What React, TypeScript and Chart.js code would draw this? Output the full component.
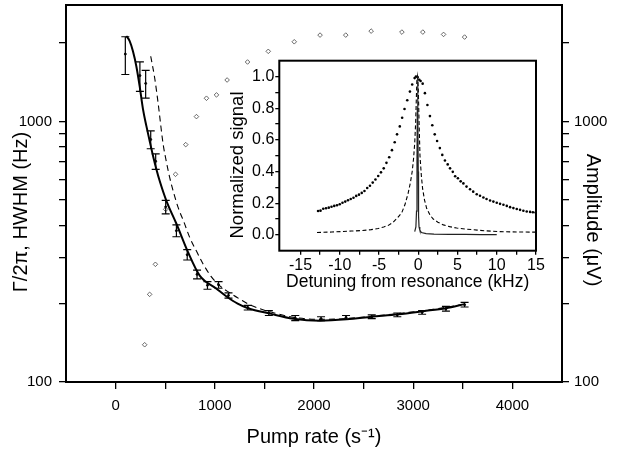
import React, { useEffect, useRef } from 'react';
import { Chart, registerables } from 'chart.js';

Chart.register(...registerables);

const FONT = '"Liberation Sans", Arial, Helvetica, sans-serif';

// ---- Main plot: linewidth vs pump rate ----
const pumpRate = [98, 245, 303, 354, 404, 505, 613, 722, 821, 926, 1038, 1138, 1332, 1545, 1811, 2071, 2323, 2582, 2840, 3090, 3330, 3518];
const linewidthHz = [1815, 1500, 1400, 853, 703, 470, 381, 308, 259, 235, 236, 215, 193, 184, 176, 175, 177, 178, 181, 185, 191, 198];
const linewidthErr = [300, 195, 170, 67, 48, 28, 20, 14, 10, 8, 7, 5, 4, 4, 4, 3, 3, 3, 3, 3, 4, 4];

const fitRate = [108, 141, 175, 209, 242, 276, 310, 343, 377, 411, 444, 512, 613, 730, 848, 1017, 1118, 1230, 1336, 1556, 1791, 2061, 2330, 2582, 2850, 3100, 3330, 3520];
const fitHz = [2130, 2040, 1860, 1630, 1370, 1115, 962, 843, 739, 656, 592, 496, 405, 315, 256, 228, 213, 200, 192, 183, 175, 172, 174, 178, 182, 187, 192, 199];

const modelRate = [354, 394, 428, 479, 512, 545, 590, 630, 690, 747, 815, 882, 960, 1051, 1150, 1253, 1350, 1455, 1600, 1800, 2050, 2300, 2600, 2900, 3200, 3520];
const modelHz = [1780, 1469, 1181, 819, 700, 610, 525, 468, 410, 359, 318, 284, 255, 234, 220, 208, 198, 191, 184, 177, 174, 175, 179, 184, 190, 199];

const ampRate = [293, 343, 401, 505, 604, 707, 815, 916, 1017, 1124, 1330, 1539, 1801, 2061, 2320, 2576, 2886, 3097, 3306, 3518];
const ampUV = [139, 217, 283, 460, 627, 815, 1044, 1228, 1265, 1443, 1692, 1859, 2023, 2146, 2146, 2223, 2204, 2204, 2159, 2109];

const mainXTicks = [0, 500, 1000, 1500, 2000, 2500, 3000, 3500, 4000];
const mainXLabels = ['0', '', '1000', '', '2000', '', '3000', '', '4000'];
const mainYTicks = [100, 200, 300, 400, 500, 600, 700, 800, 900, 1000, 2000];
const mainYLabels = ['100', '', '', '', '', '', '', '', '', '1000', ''];

// ---- Inset: normalized signal vs detuning ----
const wideDet = [-12.76, -12.45, -12.1, -11.75, -11.4, -11.05, -10.7, -10.35, -10.0, -9.65, -9.3, -8.95, -8.6, -8.25, -7.9, -7.55, -7.2, -6.85, -6.5, -6.15, -5.8, -5.45, -5.1, -4.75, -4.4, -4.05, -3.7, -3.35, -3.0, -2.7, -2.35, -2.05, -1.75, -1.4, -1.06, -0.77, -0.46, -0.29, -0.08, 0.13, 0.3, 0.56, 0.85, 1.17, 1.49, 1.79, 2.1, 2.4, 2.75, 3.06, 3.4, 3.75, 4.05, 4.4, 4.7, 5.05, 5.4, 5.75, 6.15, 6.6, 7.0, 7.45, 7.87, 8.3, 8.7, 9.15, 9.57, 10.0, 10.42, 10.85, 11.28, 11.7, 12.12, 12.55, 12.97, 13.39, 13.82, 14.25, 14.6, 14.95];
const wideSig = [0.151, 0.153, 0.165, 0.168, 0.172, 0.178, 0.183, 0.187, 0.193, 0.203, 0.21, 0.219, 0.227, 0.234, 0.246, 0.254, 0.265, 0.277, 0.296, 0.31, 0.33, 0.35, 0.372, 0.395, 0.42, 0.455, 0.49, 0.535, 0.585, 0.635, 0.685, 0.74, 0.795, 0.85, 0.905, 0.95, 0.99, 1.0, 0.996, 0.98, 0.972, 0.955, 0.895, 0.82, 0.75, 0.692, 0.635, 0.593, 0.548, 0.505, 0.47, 0.445, 0.42, 0.398, 0.37, 0.358, 0.338, 0.325, 0.305, 0.288, 0.273, 0.257, 0.247, 0.236, 0.227, 0.217, 0.21, 0.203, 0.196, 0.19, 0.183, 0.175, 0.169, 0.163, 0.158, 0.152, 0.148, 0.145, 0.143, 0.141];

const narrowDet = [-12.9, -11, -9.77, -8.5, -7.22, -6.0, -5.1, -4.4, -3.8, -3.2, -2.6, -2.1, -1.7, -1.3, -1.0, -0.77, -0.6, -0.45, -0.33, -0.25, -0.18, -0.1, 0.0, 0.1, 0.22, 0.4, 0.56, 0.8, 1.07, 1.5, 1.91, 2.5, 3.2, 4.0, 4.9, 6.2, 7.5, 8.7, 10.2, 11.7, 13.3, 15];
const narrowSig = [0.015, 0.018, 0.021, 0.024, 0.027, 0.033, 0.04, 0.05, 0.06, 0.08, 0.11, 0.14, 0.19, 0.26, 0.33, 0.4, 0.48, 0.58, 0.71, 0.85, 0.97, 1.0, 0.93, 0.72, 0.5, 0.37, 0.29, 0.22, 0.168, 0.125, 0.1, 0.08, 0.063, 0.052, 0.043, 0.036, 0.03, 0.025, 0.021, 0.019, 0.018, 0.017];

const laserDet = [-0.45, -0.3, -0.22, -0.16, -0.12, -0.08, -0.04, 0.0, 0.04, 0.1, 0.2, 0.4, 1, 2, 4, 6, 8, 10];
const laserSig = [0.02, 0.05, 0.15, 0.45, 0.8, 1.0, 0.8, 0.4, 0.12, 0.05, 0.03, 0.015, 0.008, 0.005, 0.003, 0.003, 0.002, 0.002];

const insetXTicks = [-15, -12.5, -10, -7.5, -5, -2.5, 0, 2.5, 5, 7.5, 10, 12.5, 15];
const insetXLabels = ['-15', '', '-10', '', '-5', '', '0', '', '5', '', '10', '', '15'];
const insetYTicks = [0, 0.1, 0.2, 0.3, 0.4, 0.5, 0.6, 0.7, 0.8, 0.9, 1.0];
const insetYLabels = ['0.0', '', '0.2', '', '0.4', '', '0.6', '', '0.8', '', '1.0'];

const pts = (xs: number[], ys: number[]) => xs.map((x, i) => ({ x, y: ys[i] }));

const framePlugin = {
  id: 'frame',
  afterDraw(chart: any) {
    const { ctx, chartArea: a } = chart;
    ctx.save();
    ctx.strokeStyle = '#000';
    ctx.lineWidth = 2;
    ctx.strokeRect(a.left, a.top, a.right - a.left, a.bottom - a.top);
    ctx.restore();
  },
};

type TitleSpec = { text: string; x: number; y: number; rot: number; size: number };
const titlePlugin = (items: TitleSpec[]) => ({
  id: 'rotTitles',
  afterDraw(chart: any) {
    const { ctx } = chart;
    items.forEach((t) => {
      ctx.save();
      ctx.translate(t.x, t.y);
      ctx.rotate(t.rot);
      ctx.font = `${t.size}px ${FONT}`;
      ctx.fillStyle = '#000';
      ctx.textAlign = 'center';
      ctx.textBaseline = 'middle';
      ctx.fillText(t.text, 0, 0);
      ctx.restore();
    });
  },
});

const errorBarPlugin = {
  id: 'errorBars',
  afterDatasetsDraw(chart: any) {
    const { ctx } = chart;
    const xs = chart.scales.x;
    const ys = chart.scales.y;
    ctx.save();
    ctx.strokeStyle = '#000';
    ctx.lineWidth = 1.2;
    pumpRate.forEach((p, i) => {
      const px = xs.getPixelForValue(p);
      const top = ys.getPixelForValue(linewidthHz[i] + linewidthErr[i]);
      const bot = ys.getPixelForValue(linewidthHz[i] - linewidthErr[i]);
      ctx.beginPath();
      ctx.moveTo(px, top);
      ctx.lineTo(px, bot);
      ctx.moveTo(px - 4, top);
      ctx.lineTo(px + 4, top);
      ctx.moveTo(px - 4, bot);
      ctx.lineTo(px + 4, bot);
      ctx.stroke();
    });
    ctx.restore();
  },
};

const grid = (len: number) => ({
  drawOnChartArea: false,
  drawTicks: true,
  tickLength: len,
  color: '#000',
  lineWidth: 1.3,
});

const fitV = (w: number) => (s: any) => {
  s.width = w;
  s.paddingTop = 0;
  s.paddingBottom = 0;
};
const fitH = (h: number) => (s: any) => {
  s.height = h;
  s.paddingLeft = 0;
  s.paddingRight = 0;
};

export default function App() {
  const mainRef = useRef<HTMLCanvasElement>(null);
  const insetRef = useRef<HTMLCanvasElement>(null);

  useEffect(() => {
    document.body.style.margin = '0';
    const tickFont = { family: FONT, size: 15 };
    const titleFont = { family: FONT, size: 20 };

    const main = new Chart(mainRef.current as HTMLCanvasElement, {
      type: 'scatter',
      data: {
        datasets: [
          {
            data: pts(ampRate, ampUV),
            yAxisID: 'y2',
            showLine: false,
            pointStyle: 'rectRot',
            pointRadius: 2.3,
            borderWidth: 0.8,
            borderColor: '#444',
            backgroundColor: '#fff',
          },
          {
            data: pts(fitRate, fitHz),
            yAxisID: 'y',
            showLine: true,
            borderColor: '#000',
            borderWidth: 2,
            pointRadius: 0,
            cubicInterpolationMode: 'monotone',
          },
          {
            data: pts(modelRate, modelHz),
            yAxisID: 'y',
            showLine: true,
            borderColor: '#000',
            borderWidth: 1.1,
            borderDash: [6, 4],
            pointRadius: 0,
            cubicInterpolationMode: 'monotone',
          },
          {
            data: pts(pumpRate, linewidthHz),
            yAxisID: 'y',
            showLine: false,
            pointRadius: 1,
            backgroundColor: '#000',
            borderColor: '#000',
          },
        ],
      } as any,
      options: {
        responsive: false,
        animation: false,
        devicePixelRatio: 1,
        events: [],
        layout: { padding: { top: 4, left: 0, right: 0, bottom: 0 } },
        plugins: { legend: { display: false }, tooltip: { enabled: false } },
        scales: {
          x: {
            type: 'linear',
            position: 'bottom',
            min: -500,
            max: 4500,
            afterBuildTicks: (s: any) => { s.ticks = mainXTicks.map((v) => ({ value: v })); },
            afterFit: fitH(71),
            ticks: { autoSkip: false, maxRotation: 0, font: tickFont, color: '#000', padding: 8, callback: (_v: any, i: number) => mainXLabels[i] },
            grid: grid(7),
            border: { display: false },
            title: { display: true, text: 'Pump rate (s⁻¹)', font: titleFont, color: '#000', padding: { top: 0, bottom: 4 } },
          },
          y: {
            type: 'logarithmic',
            position: 'left',
            min: 100,
            max: 2800,
            afterBuildTicks: (s: any) => { s.ticks = mainYTicks.map((v) => ({ value: v })); },
            afterFit: fitV(66),
            ticks: { autoSkip: false, font: tickFont, color: '#000', padding: 7, callback: (_v: any, i: number) => mainYLabels[i] },
            grid: grid(7),
            border: { display: false },
            title: { display: false },
          },
          y2: {
            type: 'logarithmic',
            position: 'right',
            min: 100,
            max: 2800,
            afterBuildTicks: (s: any) => { s.ticks = mainYTicks.map((v) => ({ value: v })); },
            afterFit: fitV(64),
            ticks: { autoSkip: false, font: tickFont, color: '#000', padding: 5, callback: (_v: any, i: number) => mainYLabels[i] },
            grid: grid(7),
            border: { display: false },
            title: { display: false },
          },
        },
      } as any,
      plugins: [
        errorBarPlugin,
        framePlugin,
        titlePlugin([
          { text: 'Γ/2π, HWHM (Hz)', x: 21, y: 212, rot: -Math.PI / 2, size: 20 },
          { text: 'Amplitude (μV)', x: 593, y: 220, rot: Math.PI / 2, size: 20 },
        ]),
      ],
    });

    const inset = new Chart(insetRef.current as HTMLCanvasElement, {
      type: 'scatter',
      data: {
        datasets: [
          {
            data: pts(laserDet, laserSig),
            showLine: true,
            borderColor: '#222',
            borderWidth: 1.2,
            pointRadius: 0,
          },
          {
            data: pts(narrowDet, narrowSig),
            showLine: true,
            borderColor: '#000',
            borderWidth: 1.1,
            borderDash: [4, 2.5],
            pointRadius: 0,
          },
          {
            data: pts(wideDet, wideSig),
            showLine: false,
            pointStyle: 'circle',
            pointRadius: 1.3,
            borderWidth: 0,
            backgroundColor: '#000',
          },
        ],
      } as any,
      options: {
        responsive: false,
        animation: false,
        devicePixelRatio: 1,
        events: [],
        layout: { padding: { top: 10.7, left: 0, right: 24, bottom: 0 } },
        plugins: { legend: { display: false }, tooltip: { enabled: false } },
        scales: {
          x: {
            type: 'linear',
            min: -17.7,
            max: 15,
            afterBuildTicks: (s: any) => { s.ticks = insetXTicks.map((v) => ({ value: v })); },
            afterFit: fitH(49.3),
            ticks: { autoSkip: false, maxRotation: 0, font: { family: FONT, size: 16 }, color: '#000', padding: 1, callback: (_v: any, i: number) => insetXLabels[i] },
            grid: grid(4),
            border: { display: false },
            title: { display: true, text: 'Detuning from resonance (kHz)', font: { family: FONT, size: 17.5 }, color: '#000', padding: { top: 0, bottom: 7 } },
          },
          y: {
            type: 'linear',
            min: -0.1,
            max: 1.1,
            afterBuildTicks: (s: any) => { s.ticks = insetYTicks.map((v) => ({ value: v })); },
            afterFit: fitV(57.3),
            ticks: { autoSkip: false, font: { family: FONT, size: 16 }, color: '#000', padding: 1, callback: (_v: any, i: number) => insetYLabels[i] },
            grid: grid(4),
            border: { display: false },
            title: { display: false },
          },
        },
      } as any,
      plugins: [
        framePlugin,
        titlePlugin([{ text: 'Normalized signal', x: 16, y: 115, rot: -Math.PI / 2, size: 18.5 }]),
      ],
    });

    return () => {
      main.destroy();
      inset.destroy();
    };
  }, []);

  return (
    <div style={{ position: 'relative', width: 626, height: 453, background: '#fff' }}>
      <canvas ref={mainRef} width={626} height={453} style={{ position: 'absolute', left: 0, top: 0, width: 626, height: 453 }} />
      <canvas ref={insetRef} width={338} height={250} style={{ position: 'absolute', left: 222, top: 50, width: 338, height: 250 }} />
    </div>
  );
}
